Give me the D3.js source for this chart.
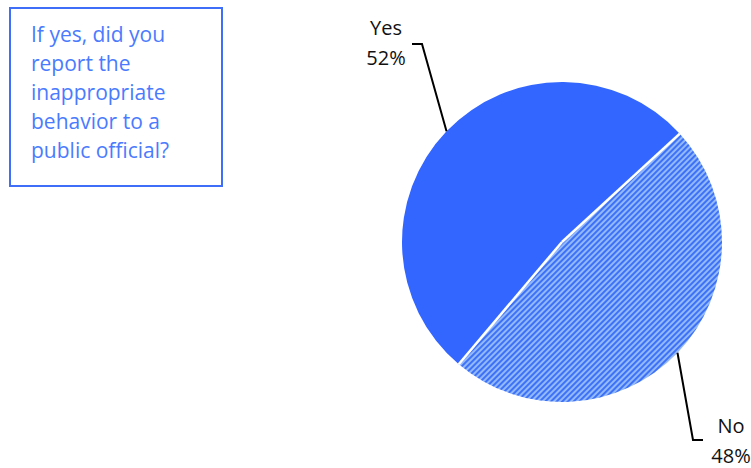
<!DOCTYPE html>
<html>
<head>
<meta charset="utf-8">
<script src="https://cdn.jsdelivr.net/npm/d3@7/dist/d3.min.js"></script>
<style>
  html, body { margin: 0; padding: 0; background: #fff; }
  svg { display: block; }
</style>
</head>
<body>
<svg id="chart" width="751" height="468"></svg>
<script>
// Survey answers and their shares (percent)
const categories = ["Yes", "No"];
const shares = [52, 48];
const titleLines = ["If yes, did you", "report the", "inappropriate", "behavior to a", "public official?"];

const svg = d3.select("#chart");
const fontFamily = "'Open Sans', 'Noto Sans', sans-serif";

// Diagonal hatch for the "No" slice
const defs = svg.append("defs");
const pat = defs.append("pattern")
  .attr("id", "hatch")
  .attr("patternUnits", "userSpaceOnUse")
  .attr("width", 4).attr("height", 4)
  .attr("patternTransform", "rotate(45)");
pat.append("rect").attr("width", 4).attr("height", 4).attr("fill", "#93b9fb");
pat.append("rect").attr("width", 2).attr("height", 4).attr("fill", "#3d71f7");

// Title box
const box = svg.append("g");
box.append("rect")
  .attr("x", 10).attr("y", 8).attr("width", 212).attr("height", 178)
  .attr("fill", "none").attr("stroke", "#3f6ff8").attr("stroke-width", 2);
box.append("text")
  .attr("fill", "#4a7bff")
  .style("font-family", fontFamily)
  .style("font-size", "21px")
  .selectAll("tspan").data(titleLines).join("tspan")
  .attr("x", 31)
  .attr("y", (d, i) => 42 + i * 29)
  .text(d => d);

// Pie
const cx = 562, cy = 242, r = 160;
const toRad = d3.scaleLinear().domain([0, 360]).range([0, 2 * Math.PI]);
const pie = d3.pie().sort(null)
  .startAngle(toRad(220.2)).endAngle(toRad(220.2 + 360));
const arcs = pie(shares);
const arc = d3.arc().innerRadius(0).outerRadius(r);
const fills = ["#3366ff", "url(#hatch)"];

const g = svg.append("g").attr("transform", `translate(${cx},${cy})`);
g.selectAll("path.slice").data(arcs).join("path")
  .attr("class", "slice")
  .attr("d", arc)
  .attr("fill", (d, i) => fills[i]);

// White separators along the radial edges
g.selectAll("line.sep").data(arcs).join("line")
  .attr("class", "sep")
  .attr("x1", 0).attr("y1", 0)
  .attr("x2", d => r * Math.sin(d.startAngle))
  .attr("y2", d => -r * Math.cos(d.startAngle))
  .attr("stroke", "#fff").attr("stroke-width", 2.5);

// Leader lines and labels
const labelSpecs = [
  { elbow: [422, 44], end: [412, 44], tx: 386, ty: 35 },
  { elbow: [693, 440], end: [703, 440], tx: 731, ty: 433 }
];
arcs.forEach((d, i) => {
  const mid = (d.startAngle + d.endAngle) / 2;
  const px = cx + r * Math.sin(mid), py = cy - r * Math.cos(mid);
  const s = labelSpecs[i];
  svg.append("polyline")
    .attr("points", [[px, py], s.elbow, s.end].map(p => p.join(",")).join(" "))
    .attr("fill", "none").attr("stroke", "#000").attr("stroke-width", 2);
  const t = svg.append("text")
    .attr("text-anchor", "middle")
    .attr("fill", "#111")
    .style("font-family", fontFamily)
    .style("font-size", "20px");
  t.append("tspan").attr("x", s.tx).attr("y", s.ty).text(categories[i]);
  t.append("tspan").attr("x", s.tx).attr("y", s.ty + 30).text(shares[i] + "%");
});
</script>
</body>
</html>
